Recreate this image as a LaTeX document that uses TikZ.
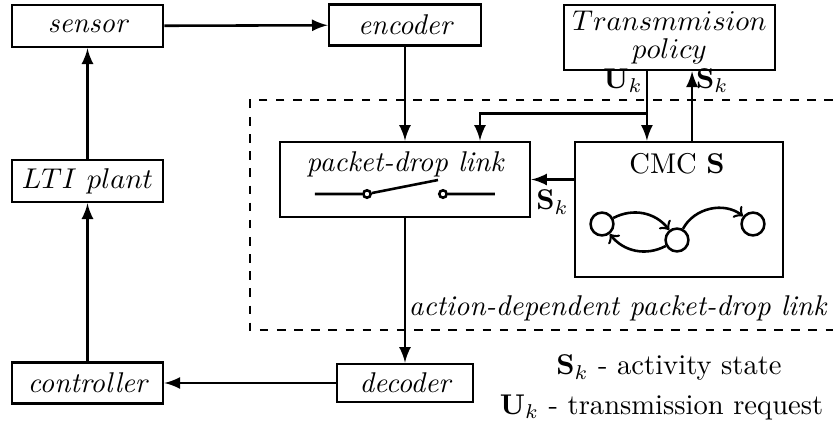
\documentclass[tikz,border=0pt]{standalone}
\usetikzlibrary{arrows}
\begin{document}
\begin{tikzpicture}[x=0.35pt, y=-0.35pt, >=latex, line width=0.9pt,
	blk/.style={draw, inner sep=0pt, font=\itshape},
	st/.style={draw, circle, minimum size=8pt, inner sep=0pt},
	pin/.style={draw, circle, fill=white, minimum size=2.6pt, inner sep=0pt},
	lbl/.style={inner sep=1pt}]
	\useasboundingbox (0,0) rectangle (833,423);
	% loop blocks
	\node[blk, minimum width=52.9pt, minimum height=14.7pt] (sen) at (87.5,26) {sensor};
	\node[blk, minimum width=53.2pt, minimum height=14.3pt] (enc) at (405,25) {encoder};
	\node[blk, minimum width=52.9pt, minimum height=14.7pt] (lti) at (87.5,181) {$LTI\ plant$};
	\node[blk, minimum width=52.9pt, minimum height=14.3pt] (ctrl) at (87.5,383) {controller};
	\node[blk, minimum width=47.6pt, minimum height=13.3pt] (dec) at (405,383) {decoder};
	\node[blk, minimum width=73.85pt, minimum height=22.75pt, align=center] (pol) at (669.5,37.5) {$Transmmision$\\[-2pt]$policy$};
	% link with switch
	\node[blk, minimum width=87.5pt, minimum height=26.25pt] (link) at (405,179.5) {};
	\node (linktxt) at (405,164) {\itshape packet-drop link};
	\coordinate (swa) at (315,194);
	\node[pin] (p1) at (367,194) {};
	\coordinate (swb) at (438,180);
	\node[pin] (p2) at (443,194) {};
	\coordinate (swc) at (495,194);
	\draw (swa) -- (p1) (p1) -- (swb) (p2) -- (swc);
	% channel state chain
	\node[blk, minimum width=72.8pt, minimum height=47.25pt] (cmc) at (679,209.5) {};
	\node (cmctxt) at (677,164) {CMC $\mathbf{S}$};
	\node[st] (s1) at (602,224) {};
	\node[st] (s2) at (677,240) {};
	\node[st] (s3) at (753,224) {};
	\draw[-to] (s1) to[bend left=40] (s2);
	\draw[-to] (s2) to[bend left=40] (s1);
	\draw[-to] (s2) to[bend left=50] (s3);
	% dashed region
	\draw[dashed] (833,100) -- (250,100) -- (250,330) -- (833,330);
	\node[anchor=east, font=\itshape] (dlbl) at (837,308) {action-dependent packet-drop link};
	% connectors
	\draw[->] (sen) -- (enc);
	\draw[->] (enc) -- (link);
	\draw[->] (link) -- (dec);
	\draw[->] (dec) -- (ctrl);
	\draw[->] (ctrl) -- (lti);
	\draw[->] (lti) -- (sen);
	\coordinate (ukt) at ([xshift=-7.9pt]pol.south);
	\coordinate (skt) at ([xshift=7.9pt]pol.south);
	\path (ukt) ++(0,42) coordinate (br);
	\draw[->] (ukt) -- (ukt |- cmc.north) node[lbl, pos=0.14, left] (uklbl) {$\mathbf{U}_k$};
	\draw[->] (br) -| ([xshift=26.25pt]link.north);
	\draw[->] (skt |- cmc.north) -- (skt) node[lbl, pos=0.86, right] (sklbl) {$\mathbf{S}_k$};
	\draw[->] (cmc.west |- link.east) -- (link.east) node[midway, below] (skl2) {$\mathbf{S}_k$};
	% legend
	\node (legs) at (669,368) {$\mathbf{S}_k$ - activity state};
	\node (legu) at (661.5,407) {$\mathbf{U}_k$ - transmission request};
\end{tikzpicture}
\end{document}
